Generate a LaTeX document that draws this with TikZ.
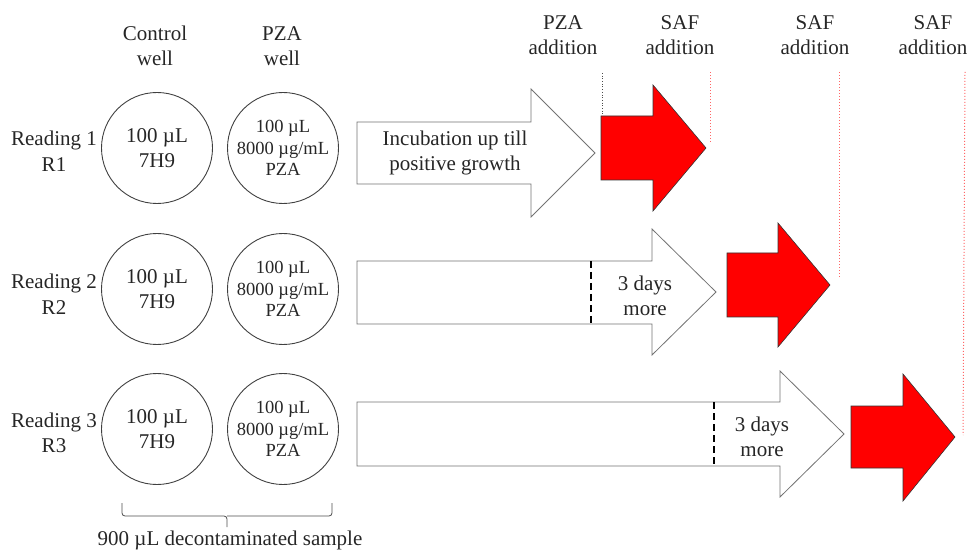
\documentclass[tikz,border=0pt]{standalone}
\usepackage{fontspec}
\setmainfont{Liberation Serif}
\begin{document}
\begin{tikzpicture}[x=1pt,y=-1pt,
  lbl/.style={align=center,font=\fontsize{21}{25.5}\selectfont,inner sep=0pt,text=black!85},
  well/.style={circle,draw=black!75,line width=0.9pt,minimum size=111pt,align=center,inner sep=0pt,
    font=\fontsize{21}{24.5}\selectfont,text=black!85},
  pzawell/.style={well,font=\fontsize{18.5}{21.5}\selectfont},
  whitearrow/.style={draw=black!55,fill=white,line width=0.8pt},
  redarrow/.style={draw=black!80,fill=red,line width=0.6pt},
  reddots/.style={draw=red!60,line width=1pt,dotted},
  greydots/.style={draw=black!70,line width=0.7pt,dotted},
  daysline/.style={draw=black,line width=2.6pt,dash pattern=on 7pt off 4pt}]
\useasboundingbox (0,0) rectangle (972,553);

% column headers
\node[lbl] (hctrl) at (155,46) {Control\\well};
\node[lbl] (hpza) at (282,46) {PZA\\well};
\node[lbl] (hpzaadd) at (563,35) {PZA\\addition};
\node[lbl] (hsaf1) at (680,35) {SAF\\addition};
\node[lbl] (hsaf2) at (815,35) {SAF\\addition};
\node[lbl] (hsaf3) at (933,35) {SAF\\addition};

% readings
\node[lbl] (read1) at (54,151) {Reading 1\\R1};
\node[lbl] (read2) at (54,294) {Reading 2\\R2};
\node[lbl] (read3) at (54,433) {Reading 3\\R3};

% wells
\node[well] (c1) at (157,148) {100 µL\\7H9};
\node[pzawell] (p1) at (283,148) {100 µL\\8000 µg/mL\\PZA};
\node[well] (c2) at (157,289) {100 µL\\7H9};
\node[pzawell] (p2) at (283,289) {100 µL\\8000 µg/mL\\PZA};
\node[well] (c3) at (157,429) {100 µL\\7H9};
\node[pzawell] (p3) at (283,429) {100 µL\\8000 µg/mL\\PZA};

% white incubation arrows
\path[whitearrow] (357,122) -- (531,122) -- (531,89) -- (595,153) -- (531,217) -- (531,184) -- (357,184) -- cycle;
\node[lbl] (inc1) at (455,153) {Incubation up till\\positive growth};

\path[whitearrow] (357,261) -- (652,261) -- (652,229) -- (716,292) -- (652,355) -- (652,324) -- (357,324) -- cycle;
\draw[daysline] (591,261) -- (591,324);
\node[lbl] (days2) at (645,296) {3 days\\more};

\path[whitearrow] (357,402) -- (780,402) -- (780,371) -- (844,434) -- (780,497) -- (780,466) -- (357,466) -- cycle;
\draw[daysline] (714,402) -- (714,466);
\node[lbl] (days3) at (762,437) {3 days\\more};

% red SAF arrows
\path[redarrow] (601,116) -- (653,116) -- (653,85) -- (706,148) -- (653,211) -- (653,180) -- (601,180) -- cycle;
\path[redarrow] (727,253) -- (778,253) -- (778,223) -- (830,285) -- (778,347) -- (778,317) -- (727,317) -- cycle;
\path[redarrow] (851,406) -- (903,406) -- (903,374) -- (955,437) -- (903,501) -- (903,468) -- (851,468) -- cycle;

% addition marker lines
\draw[greydots] (602,73) -- (602,116);
\draw[reddots] (710,72) -- (710,143);
\draw[reddots] (839,72) -- (839,277);
\draw[reddots] (965,72) -- (963,435);

% brace
\draw[black!70,line width=0.8pt,rounded corners=3pt] (122,503) -- (122,516) -- (227,516) -- (227,527);
\draw[black!70,line width=0.8pt,rounded corners=3pt] (332,503) -- (332,516) -- (227,516);
\node[lbl] (sample) at (230,540) {900 µL decontaminated sample};
\end{tikzpicture}
\end{document}
